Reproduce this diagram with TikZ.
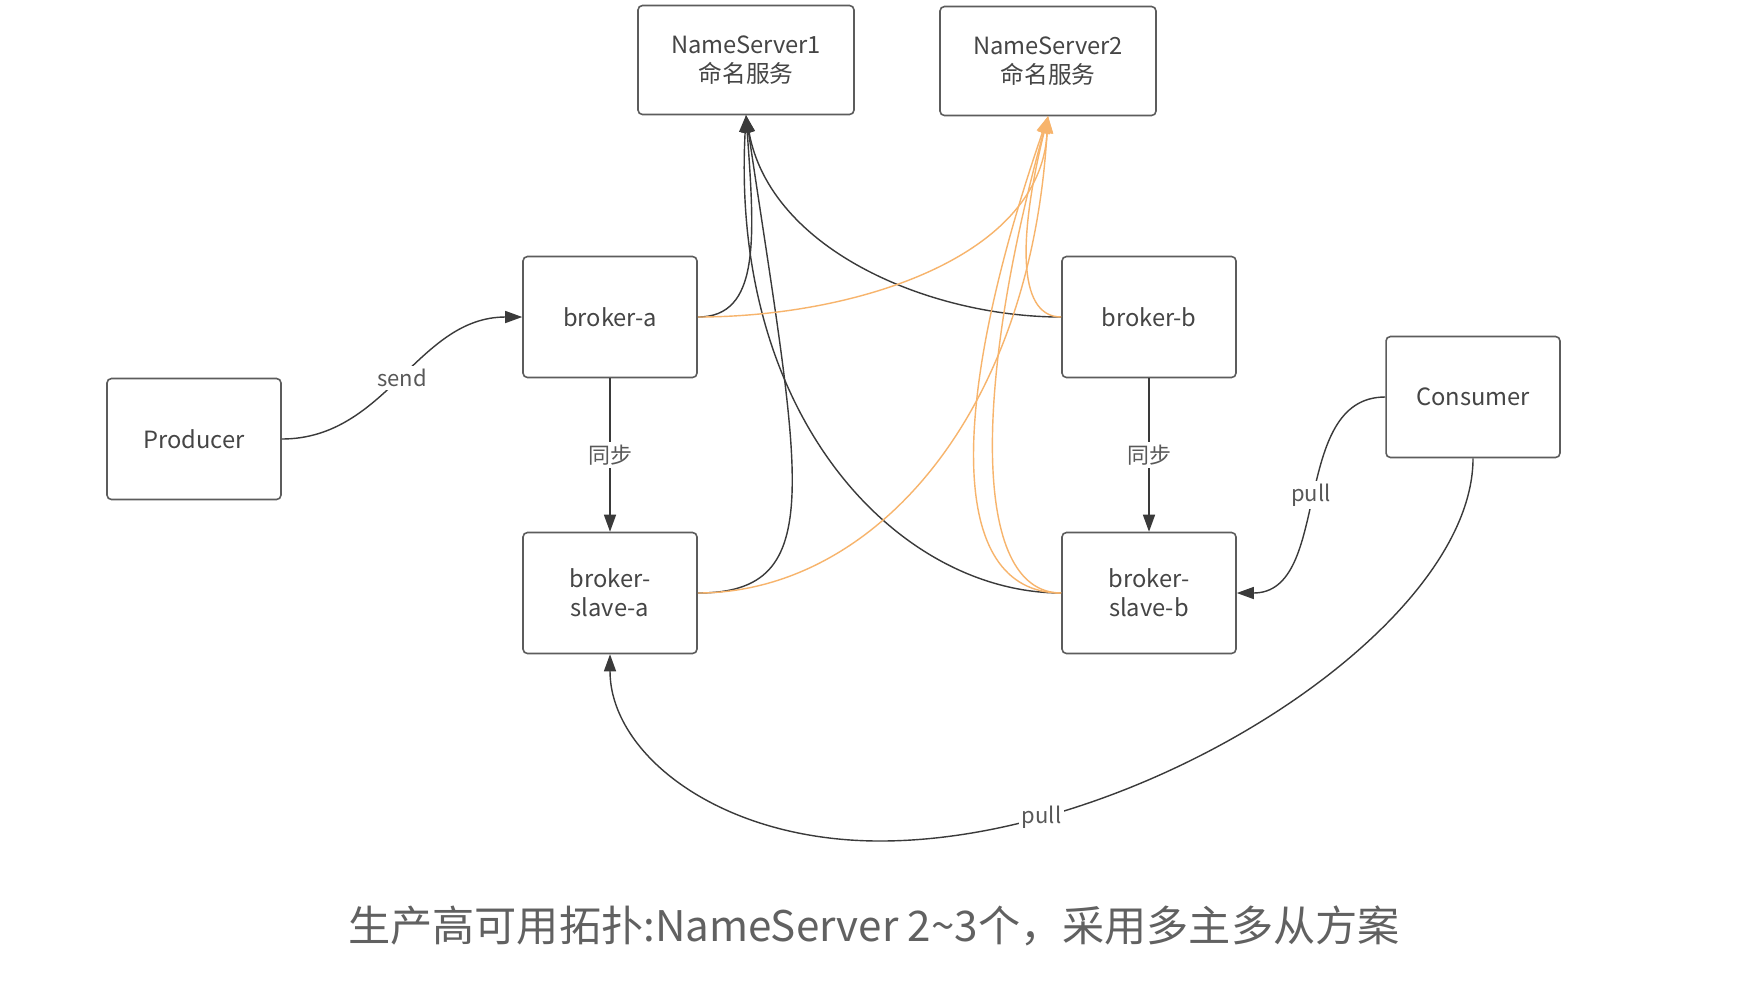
\documentclass[tikz,border=0pt]{standalone}
\usepackage{fontspec}
\setmainfont{Noto Sans CJK SC}
\usetikzlibrary{arrows.meta, positioning}
\definecolor{linegray}{HTML}{3A3A3A}
\definecolor{boxgray}{HTML}{5C5C5C}
\definecolor{textgray}{HTML}{454545}
\definecolor{nsorange}{HTML}{F7B46C}

\begin{document}
\begin{tikzpicture}[
    x=0.02cm, y=-0.02cm,
    box/.style={rectangle, rounded corners=2.5pt, draw=boxgray, line width=0.9pt, fill=white,
                minimum width=3.48cm, minimum height=2.42cm, align=center, text=textgray,
                font=\fontsize{13.5}{16.5}\selectfont},
    nsbox/.style={box, minimum width=4.32cm, minimum height=2.18cm},
    lbl/.style={fill=white, inner sep=1.5pt, text=textgray!90, font=\fontsize{12.5}{15}\selectfont},
    caption/.style={text=textgray!85, font=\fontsize{24}{28}\selectfont},
    arr/.style={-{Triangle[length=0.34cm, width=0.24cm]}, line width=0.8pt, color=linegray},
    orr/.style={arr, color=nsorange}
]
\useasboundingbox[fill=white] (0,0) rectangle (1746,998);

\node[nsbox] (ns1) at (746,60)  {NameServer1\\命名服务};
\node[nsbox] (ns2) at (1048,61) {NameServer2\\命名服务};
\node[box] (ba)   at (610,317)  {broker-a};
\node[box] (bb)   at (1149,317) {broker-b};
\node[box] (sa)   at (610,593)  {broker-\\slave-a};
\node[box] (sb)   at (1149,593) {broker-\\slave-b};
\node[box] (prod) at (194,439)  {Producer};
\node[box] (cons) at (1473,397) {Consumer};
\node[caption] (title) at (874,926) {生产高可用拓扑:NameServer 2\textasciitilde3个，采用多主多从方案};

\coordinate (pullbot) at (880,841);

\draw[arr] (ba.east) .. controls (760,317) and (755,240) .. (ns1.south);
\draw[arr] (bb.west) .. controls (930,317) and (770,250) .. (ns1.south);
\draw[arr] (sa.east) .. controls (830,593) and (800,480) .. (ns1.south);
\draw[arr] (sb.west) .. controls (900,593) and (730,420) .. (ns1.south);

\draw[orr] (ba.east) .. controls (850,317) and (1040,260) .. (ns2.south);
\draw[orr] (bb.west) .. controls (1015,317) and (1020,230) .. (ns2.south);
\draw[orr] (sa.east) .. controls (870,593) and (1030,420) .. (ns2.south);
\draw[orr] (sb.west) .. controls (945,593) and (950,400) .. (ns2.south);
\draw[orr] (sb.west) .. controls (970,593) and (975,380) .. (ns2.south);

\draw[arr] (prod.east) to[out=0, in=180] node[lbl] {send} (ba.west);
\draw[arr] (ba) -- node[lbl] {同步} (sa);
\draw[arr] (bb) -- node[lbl] {同步} (sb);
\draw[arr] (cons.west) to[out=180, in=0] node[lbl] {pull} (sb.east);
\draw[arr] (cons.south) .. controls +(0,170) and +(260,0) .. (pullbot) node[lbl, pos=0.8] {pull}
    .. controls +(-160,0) and +(0,100) .. (sa.south);

\end{tikzpicture}
\end{document}
